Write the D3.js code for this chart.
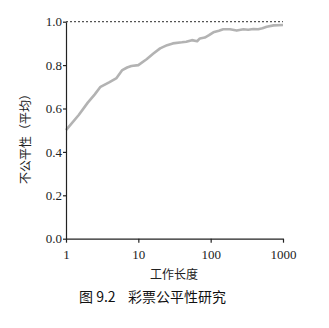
<!DOCTYPE html>
<html>
<head>
<meta charset="utf-8">
<script src="https://cdn.jsdelivr.net/npm/d3@7"></script>
<style>
body { margin: 0; background: #fff; }
.lbl { font-family: "Noto Sans CJK SC", sans-serif; font-size: 12px; fill: #222; }
.cap { font-family: "Noto Sans CJK SC", sans-serif; font-size: 14px; fill: #111; }
</style>
</head>
<body>
<svg id="chart" width="329" height="328"></svg>
<script>
//data
var jobLength = [1, 1.5, 2, 2.5, 3, 4, 5, 6, 7, 8, 10, 13, 16, 20, 25, 30, 40, 46, 55, 65, 71, 83, 95, 109, 130, 149, 185, 229, 284, 330, 389, 455, 520, 596, 741, 1000];
var unfairness = [0.50, 0.57, 0.627, 0.665, 0.70, 0.722, 0.74, 0.777, 0.789, 0.796, 0.80, 0.827, 0.852, 0.877, 0.892, 0.90, 0.905, 0.908, 0.915, 0.91, 0.923, 0.927, 0.938, 0.951, 0.958, 0.965, 0.965, 0.959, 0.965, 0.963, 0.966, 0.965, 0.970, 0.977, 0.983, 0.985];
var xTicks = [1, 10, 100, 1000];
var yTicks = [0, 0.2, 0.4, 0.6, 0.8, 1.0];

//layout (plotTop, not top: top is window.top)
var plotLeft = 66, plotRight = 283, plotTop = 21.7, plotBottom = 238.7;

var svg = d3.select("#chart");

var x = d3.scaleLog()
	.domain([1, 1000])
	.range([plotLeft, plotRight]);

var y = d3.scaleLinear()
	.domain([0, 1])
	.range([plotBottom, plotTop]);

//reference line at 1.0
svg.append("line")
	.attr("x1", x(1))
	.attr("x2", x(1000))
	.attr("y1", y(1))
	.attr("y2", y(1))
	.attr("stroke", "#555")
	.attr("stroke-width", 1.2)
	.attr("stroke-dasharray", "2,2");

//the curve
var line = d3.line()
	.x(function(d, i){ return x(jobLength[i]); })
	.y(function(d){ return y(d); });

svg.append("path")
	.datum(unfairness)
	.attr("d", line)
	.attr("fill", "none")
	.attr("stroke", "#b3b3b3")
	.attr("stroke-width", 2.6)
	.attr("stroke-linejoin", "round");

//axes
var xAxis = svg.append("g")
	.attr("transform", `translate(0,${plotBottom})`)
	.call(d3.axisBottom(x).tickValues(xTicks).tickFormat(d3.format("d")).tickSize(4).tickSizeOuter(0));

var yAxis = svg.append("g")
	.attr("transform", `translate(${plotLeft},0)`)
	.call(d3.axisLeft(y).tickValues(yTicks).tickFormat(d3.format(".1f")).tickSize(3).tickSizeOuter(0));

svg.selectAll(".domain").attr("stroke", "#222").attr("stroke-width", 1.2);
svg.selectAll(".tick line").attr("stroke", "#222").attr("stroke-width", 1.2);
svg.selectAll(".tick text")
	.attr("font-family", "'Liberation Serif', 'DejaVu Serif', serif")
	.attr("font-size", 13)
	.attr("fill", "#222");
xAxis.selectAll(".tick text").attr("dy", "1.05em");
yAxis.selectAll(".tick text").attr("x", -4);

//labels
svg.append("text")
	.attr("class", "lbl")
	.attr("x", 174)
	.attr("y", 279)
	.attr("text-anchor", "middle")
	.text("工作长度");

svg.append("text")
	.attr("class", "lbl")
	.attr("transform", "translate(30,136) rotate(-90)")
	.attr("text-anchor", "middle")
	.text("不公平性（平均）");

svg.append("text")
	.attr("class", "cap")
	.attr("x", 79)
	.attr("y", 302)
	.attr("xml:space", "preserve")
	.text("图 9.2    彩票公平性研究");
</script>
</body>
</html>
